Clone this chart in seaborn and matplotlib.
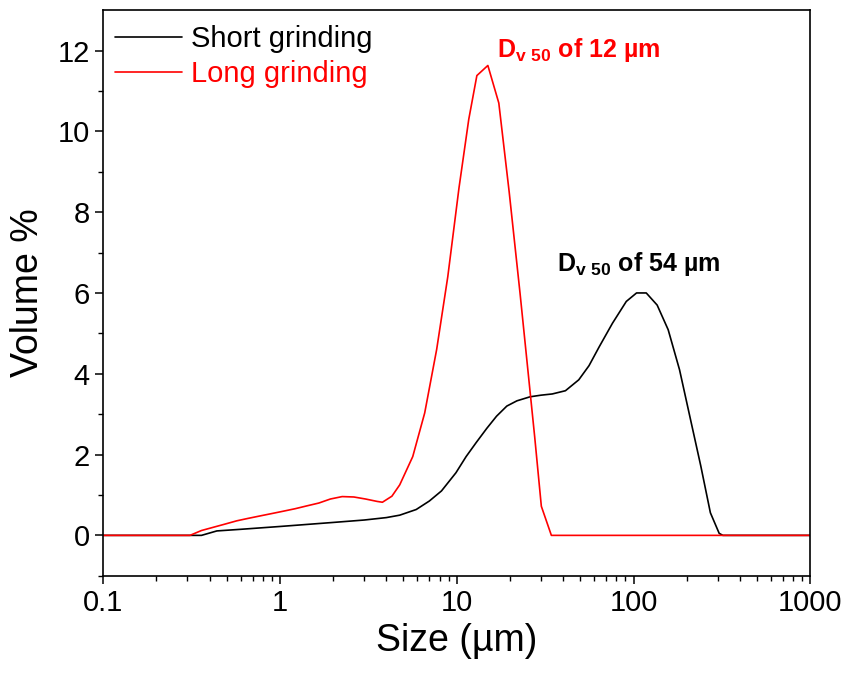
import numpy as np
import pandas as pd
import matplotlib
matplotlib.use('Agg')
import matplotlib.pyplot as plt
import seaborn as sns

# particle size (um) and volume % for both grinding times
short_size = [0.1, 0.36, 0.44, 0.6, 1.0, 2.0, 3.0, 4.0, 4.76, 5.9, 7.0, 8.2, 9.9,
              11.3, 12.9, 14.8, 16.8, 19.2, 21.9, 26, 30, 34.7, 41.2, 49, 56, 64,
              76, 91, 104, 118, 136, 157, 182, 208, 240, 272, 305, 320, 1000]
short_vol = [0, 0, 0.11, 0.15, 0.22, 0.32, 0.38, 0.44, 0.5, 0.64, 0.85, 1.1, 1.55,
             1.95, 2.3, 2.65, 2.95, 3.2, 3.33, 3.43, 3.47, 3.5, 3.58, 3.85, 4.2, 4.67,
             5.25, 5.79, 6.0, 6.0, 5.7, 5.09, 4.1, 2.95, 1.72, 0.56, 0.05, 0, 0]

long_size = [0.1, 0.31, 0.36, 0.42, 0.49, 0.57, 0.66, 0.77, 0.9, 1.05, 1.22, 1.42,
             1.66, 1.93, 2.25, 2.62, 3.05, 3.55, 3.8, 4.3, 4.76, 5.64, 6.59, 7.7,
             8.9, 10.3, 11.7, 13.0, 15.0, 17.3, 19.8, 22.8, 27.6, 30.1, 34.3, 1000]
long_vol = [0, 0, 0.12, 0.2, 0.28, 0.36, 0.42, 0.48, 0.54, 0.6, 0.66, 0.73,
            0.8, 0.9, 0.96, 0.95, 0.9, 0.84, 0.82, 0.97, 1.25, 1.95, 3.03, 4.6,
            6.4, 8.6, 10.3, 11.38, 11.63, 10.7, 8.5, 6.0, 2.44, 0.72, 0, 0]

labels = ['Short grinding', 'Long grinding']
colors = ['black', 'red']

df = pd.concat([
    pd.DataFrame({'size': short_size, 'vol': short_vol, 'run': labels[0]}),
    pd.DataFrame({'size': long_size, 'vol': long_vol, 'run': labels[1]}),
])

sns.set_theme(style='ticks')
plt.rcParams['font.family'] = ['Liberation Sans', 'DejaVu Sans']
plt.rcParams['mathtext.fontset'] = 'custom'
plt.rcParams['mathtext.rm'] = 'Liberation Sans'
plt.rcParams['mathtext.bf'] = 'Liberation Sans:bold'

fig = plt.figure(figsize=(8.45, 6.75), dpi=100)
ax = fig.add_axes([0.122, 0.147, 0.837, 0.838])

sns.lineplot(data=df, x='size', y='vol', hue='run', palette=dict(zip(labels, colors)),
             estimator=None, sort=True, linewidth=1.2, ax=ax)

ax.set_xscale('log')
ax.set_xlim(0.1, 1000)
ax.set_ylim(-1, 13)
ax.set_xticks([0.1, 1, 10, 100, 1000])
ax.set_xticklabels(['0.1', '1', '10', '100', '1000'])
ax.set_yticks([0, 2, 4, 6, 8, 10, 12])
ax.set_yticks([-1, 1, 3, 5, 7, 9, 11], minor=True)
ax.tick_params(axis='both', which='major', direction='out', length=6, width=1.1,
               labelsize=21, color='black', labelcolor='black')
ax.tick_params(axis='both', which='minor', direction='out', length=3.5, width=1.0,
               color='black')
for s in ax.spines.values():
    s.set_linewidth(1.2)
    s.set_color('black')

ax.set_xlabel('Size (µm)', fontsize=27, labelpad=4, color='black')
ax.set_ylabel('Volume %', fontsize=27, labelpad=8, color='black')

ax.legend(loc='upper left', bbox_to_anchor=(0.0, 0.994), frameon=False, fontsize=21,
          handlelength=2.3, handletextpad=0.3, labelspacing=0.25, borderaxespad=0.2,
          borderpad=0.2, labelcolor='linecolor')

ax.text(16.8, 11.85, r'$\mathbf{D_{v\ 50}}$ of 12 µm', color='red', fontsize=18,
        fontweight='bold')
ax.text(36.7, 6.55, r'$\mathbf{D_{v\ 50}}$ of 54 µm', color='black', fontsize=18,
        fontweight='bold')

fig.savefig('out.png', dpi=100)
